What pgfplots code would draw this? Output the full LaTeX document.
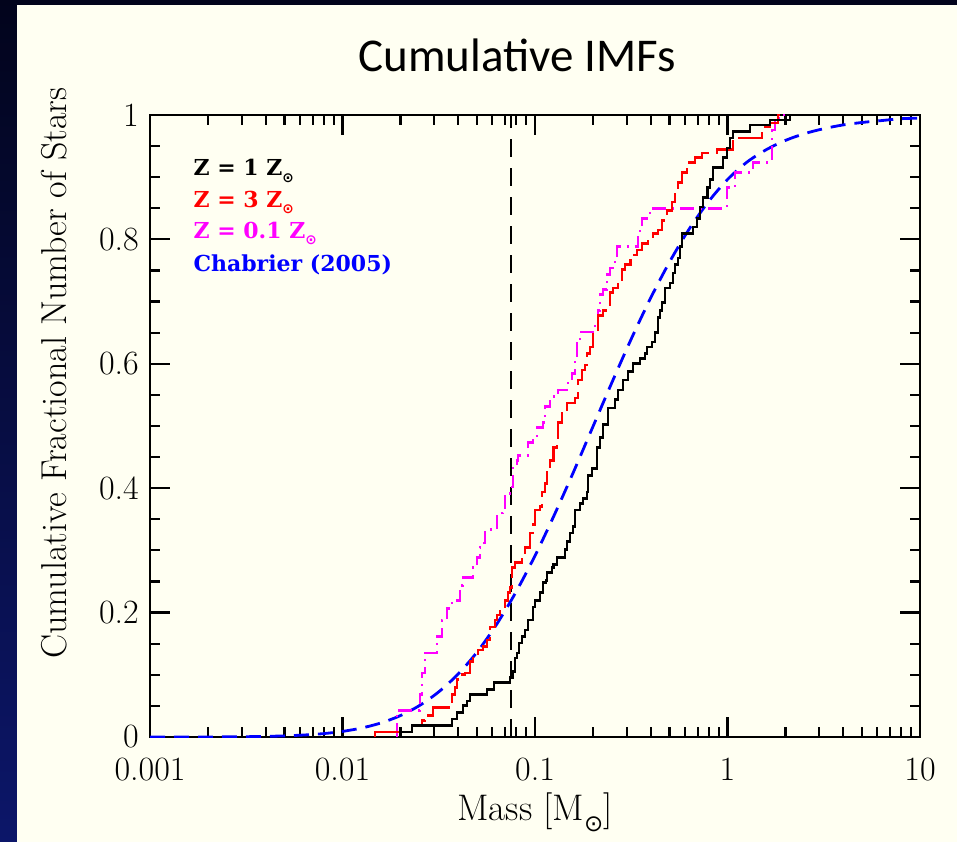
\documentclass[border=0pt]{standalone}
\usepackage{fontspec}
\usepackage{graphicx}
\usepackage{pgfplots}
\pgfplotsset{compat=1.18}
\newfontfamily\titlefont{Carlito}
\newfontfamily\legfont{DejaVu Serif}
\newfontfamily\symfont{DejaVu Sans}
\newcommand\sun{\raisebox{-0.3em}{\scalebox{0.62}{\symfont ⊙}}}
\newcommand\sunb{\raisebox{-0.3em}{\scalebox{0.62}{\symfont\bfseries ⊙}}}
\definecolor{cream}{RGB}{255,255,242}
\definecolor{navytop}{RGB}{2,4,28}
\definecolor{navybot}{RGB}{12,22,105}
\definecolor{pmag}{RGB}{255,0,255}
\definecolor{pred}{RGB}{255,0,0}
\definecolor{pblue}{RGB}{0,0,255}

\pgfplotstableread{
lm f
-1.701 0.000
-1.701 0.008
-1.639 0.019
-1.431 0.029
-1.405 0.039
-1.374 0.050
-1.353 0.058
-1.338 0.068
-1.249 0.077
-1.213 0.087
-1.130 0.096
-1.114 0.105
-1.104 0.127
-1.094 0.135
-1.083 0.151
-1.068 0.161
-1.052 0.172
-1.036 0.188
-1.010 0.209
-1.000 0.220
-0.974 0.232
-0.958 0.248
-0.943 0.252
-0.938 0.265
-0.912 0.272
-0.906 0.277
-0.886 0.288
-0.844 0.301
-0.834 0.314
-0.818 0.328
-0.803 0.338
-0.792 0.365
-0.766 0.376
-0.751 0.384
-0.730 0.394
-0.725 0.421
-0.704 0.432
-0.678 0.465
-0.662 0.482
-0.647 0.502
-0.621 0.529
-0.584 0.542
-0.569 0.558
-0.543 0.574
-0.517 0.587
-0.491 0.600
-0.455 0.609
-0.429 0.617
-0.418 0.627
-0.392 0.635
-0.377 0.650
-0.361 0.675
-0.351 0.686
-0.340 0.698
-0.325 0.722
-0.299 0.730
-0.283 0.746
-0.273 0.759
-0.257 0.770
-0.247 0.788
-0.236 0.810
-0.179 0.820
-0.158 0.834
-0.143 0.852
-0.127 0.867
-0.106 0.884
-0.091 0.896
-0.075 0.915
-0.023 0.932
-0.003 0.947
0.013 0.963
0.029 0.973
0.117 0.984
0.221 0.992
0.325 1.000
0.351 1.000
}\zone

\pgfplotstableread{
lm f
-1.831 0.000
-1.831 0.008
-1.639 0.019
-1.587 0.027
-1.571 0.035
-1.530 0.047
-1.431 0.068
-1.416 0.080
-1.405 0.092
-1.390 0.100
-1.364 0.103
-1.338 0.121
-1.322 0.127
-1.296 0.140
-1.270 0.145
-1.249 0.156
-1.234 0.177
-1.208 0.188
-1.197 0.196
-1.182 0.207
-1.156 0.220
-1.140 0.232
-1.130 0.240
-1.119 0.273
-1.104 0.281
-1.068 0.293
-1.052 0.305
-1.026 0.328
-1.010 0.341
-1.000 0.365
-0.974 0.370
-0.964 0.394
-0.948 0.408
-0.938 0.426
-0.922 0.445
-0.906 0.465
-0.886 0.477
-0.881 0.505
-0.860 0.521
-0.834 0.537
-0.792 0.545
-0.777 0.574
-0.756 0.590
-0.740 0.598
-0.730 0.617
-0.714 0.627
-0.699 0.651
-0.673 0.678
-0.647 0.686
-0.621 0.695
-0.610 0.714
-0.595 0.722
-0.569 0.727
-0.548 0.751
-0.532 0.759
-0.506 0.775
-0.470 0.783
-0.444 0.794
-0.413 0.802
-0.387 0.810
-0.361 0.815
-0.340 0.831
-0.314 0.847
-0.288 0.860
-0.273 0.876
-0.257 0.892
-0.236 0.908
-0.210 0.924
-0.169 0.932
-0.132 0.939
-0.055 0.945
0.029 0.963
0.179 0.981
0.221 0.987
0.262 1.000
0.273 1.000
}\zthree

\pgfplotstableread{
lm f
-1.717 0.000
-1.717 0.043
-1.597 0.068
-1.587 0.103
-1.571 0.135
-1.509 0.161
-1.483 0.188
-1.457 0.207
-1.431 0.220
-1.390 0.244
-1.374 0.257
-1.322 0.272
-1.301 0.288
-1.286 0.305
-1.275 0.312
-1.260 0.333
-1.197 0.360
-1.166 0.365
-1.156 0.392
-1.119 0.402
-1.114 0.434
-1.094 0.445
-1.088 0.453
-1.036 0.473
-1.010 0.482
-0.990 0.498
-0.958 0.505
-0.948 0.531
-0.922 0.547
-0.881 0.558
-0.829 0.569
-0.808 0.585
-0.792 0.606
-0.782 0.633
-0.766 0.651
-0.688 0.667
-0.673 0.686
-0.662 0.711
-0.647 0.719
-0.626 0.743
-0.610 0.754
-0.584 0.767
-0.574 0.788
-0.465 0.807
-0.455 0.820
-0.444 0.834
-0.403 0.850
-0.003 0.883
0.039 0.908
0.132 0.924
0.231 0.976
0.247 0.995
0.283 1.000
0.299 1.000
}\zlow

\pgfplotstableread{
lm f
-3.0 0.0000
-2.9 0.0000
-2.8 0.0001
-2.7 0.0001
-2.6 0.0003
-2.5 0.0005
-2.4 0.0010
-2.3 0.0018
-2.2 0.0032
-2.1 0.0054
-2.0 0.0090
-1.9 0.0145
-1.8 0.0226
-1.7 0.0343
-1.6 0.0506
-1.5 0.0726
-1.4 0.1010
-1.3 0.1369
-1.2 0.1808
-1.1 0.2325
-1.0 0.2915
-0.9 0.3568
-0.8 0.4261
-0.7 0.4983
-0.6 0.5703
-0.5 0.6400
-0.4 0.7053
-0.3 0.7643
-0.2 0.8162
-0.1 0.8602
0.0 0.8963
0.1 0.924
0.2 0.944
0.3 0.959
0.4 0.970
0.5 0.978
0.6 0.984
0.7 0.988
0.8 0.991
0.9 0.994
1.0 0.995
}\chab

\begin{document}
\begin{tikzpicture}
\shade[top color=navytop, bottom color=navybot] (0pt,0pt) rectangle (957pt,842pt);
\fill[cream] (17pt,0pt) rectangle (957pt,837pt);
\node[font=\titlefont\fontsize{47}{56}\selectfont, anchor=base] at (517pt,770pt) {Cumulative IMFs};
\begin{axis}[
  at={(150pt,105pt)}, anchor=south west, scale only axis,
  width=770pt, height=622pt,
  xmin=-3, xmax=1, ymin=0, ymax=1,
  xtick={-3,-2,-1,0,1}, xticklabels={0.001,0.01,0.1,1,10},
  minor xtick={-2.699,-2.523,-2.398,-2.301,-2.222,-2.155,-2.097,-2.046,
               -1.699,-1.523,-1.398,-1.301,-1.222,-1.155,-1.097,-1.046,
               -0.699,-0.523,-0.398,-0.301,-0.222,-0.155,-0.097,-0.046,
               0.301,0.477,0.602,0.699,0.778,0.845,0.903,0.954},
  ytick={0,0.2,0.4,0.6,0.8,1}, yticklabels={0,0.2,0.4,0.6,0.8,1},
  minor ytick={0.05,0.1,0.15,0.25,0.3,0.35,0.45,0.5,0.55,0.65,0.7,0.75,0.85,0.9,0.95},
  tick align=inside,
  major tick length=20pt, minor tick length=10pt,
  every tick/.style={black, line width=2.2pt},
  axis line style={line width=2.8pt},
  ticklabel style={font=\fontsize{34}{40}\selectfont, inner sep=1pt},
  xticklabel style={yshift=-20pt},
  yticklabel style={xshift=-10pt},
  xlabel={Mass [M\sun]},
  ylabel={Cumulative Fractional Number of Stars},
  xlabel style={font=\fontsize{37}{44}\selectfont, at={(axis description cs:0.5,0)}, anchor=base, yshift=-83pt},
  ylabel style={font=\fontsize{36}{43}\selectfont, at={(axis description cs:-0.1078,0.585)}, anchor=base},
]
\addplot[black, line width=2.6pt, dash pattern=on 18pt off 11pt] coordinates {(-1.125,0) (-1.125,1)};
\addplot[pblue, line width=2.8pt, smooth, dash pattern=on 15pt off 9pt] table[x=lm,y=f] {\chab};
\addplot[pmag, line width=2.8pt, const plot, dash pattern=on 14pt off 6pt on 2pt off 6pt] table[x=lm,y=f] {\zlow};
\addplot[pred, line width=2.8pt, const plot, dash pattern=on 30pt off 7pt] table[x=lm,y=f] {\zthree};
\addplot[black, line width=2.8pt, const plot] table[x=lm,y=f] {\zone};
\node[anchor=base west, text=black, font=\legfont\bfseries\fontsize{22}{26}\selectfont] at (axis cs:-2.792,0.902) {Z = 1 Z\sunb};
\node[anchor=base west, text=pred, font=\legfont\bfseries\fontsize{22}{26}\selectfont] at (axis cs:-2.792,0.852) {Z = 3 Z\sunb};
\node[anchor=base west, text=pmag, font=\legfont\bfseries\fontsize{22}{26}\selectfont] at (axis cs:-2.792,0.802) {Z = 0.1 Z\sunb};
\node[anchor=base west, text=pblue, font=\legfont\bfseries\fontsize{22}{26}\selectfont] at (axis cs:-2.792,0.749) {Chabrier (2005)};
\end{axis}
\end{tikzpicture}
\end{document}
